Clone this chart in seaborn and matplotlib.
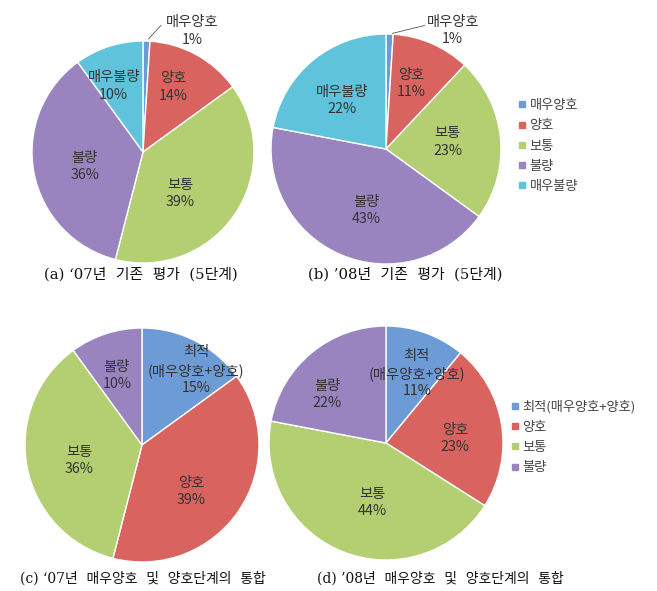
import numpy as np
import matplotlib
matplotlib.use("Agg")
import matplotlib.pyplot as plt
import seaborn as sns
from matplotlib.lines import Line2D

sns.set_theme(style="white")
plt.rcParams['font.family'] = ['Noto Sans CJK KR', 'DejaVu Sans']

# ---- data ----
cats5 = ['매우양호', '양호', '보통', '불량', '매우불량']
vals_a = [1, 14, 39, 36, 10]
vals_b = [1, 11, 23, 43, 22]
cats4 = ['최적(매우양호+양호)', '양호', '보통', '불량']
slice_labels4 = ['최적\n(매우양호+양호)', '양호', '보통', '불량']
vals_c = [15, 39, 36, 10]
vals_d = [11, 23, 44, 22]
captions = ["(a) ‘07년  기존  평가  (5단계)", "(b) ’08년  기존  평가  (5단계)",
            "(c) ‘07년  매우양호  및  양호단계의  통합", "(d) ’08년  매우양호  및  양호단계의  통합"]

pal5 = sns.color_palette(['#6D9BD6', '#D9645F', '#B3CF72', '#9A84C0', '#5FC3DC'])
pal4 = pal5[:4]

W, H = 657, 591
fig = plt.figure(figsize=(W / 100, H / 100), dpi=100)

def pie_axes(cx, cy, R):
    s = 2.5 * R
    return fig.add_axes([(cx - s / 2) / W, (H - cy - s / 2) / H, s / W, s / H])

LABEL_FS = 10.3

def draw(ax, vals, labels, colors, rfrac, dang, skip_first=False):
    wedges, _ = ax.pie(vals, colors=colors, startangle=90, counterclock=False,
                       wedgeprops=dict(edgecolor='white', linewidth=1.0))
    ax.set_xlim(-1.25, 1.25)
    ax.set_ylim(-1.25, 1.25)
    ax.set_aspect('equal')
    ax.axis('off')
    for i, (w, v, lab) in enumerate(zip(wedges, vals, labels)):
        if skip_first and i == 0:
            continue
        ang = np.deg2rad((w.theta1 + w.theta2) / 2 + dang[i])
        r = rfrac[i]
        ax.text(r * np.cos(ang), r * np.sin(ang), f"{lab}\n{v}%", ha='center', va='center',
                fontsize=LABEL_FS, color='#333333', linespacing=1.3)
    return wedges

def small_label(ax, w, v, lab, tx, ty, kx, ky):
    ang = np.deg2rad((w.theta1 + w.theta2) / 2)
    ax.annotate('', xy=(np.cos(ang), np.sin(ang)), xytext=(kx, ky),
                arrowprops=dict(arrowstyle='-', color='#555555', lw=0.6))
    ax.text(tx, ty, f"{lab}\n{v}%", ha='center', va='center', fontsize=LABEL_FS,
            color='#333333', linespacing=1.3)

# (a)
ax = pie_axes(143, 152, 111)
wa = draw(ax, vals_a, cats5, pal5, [0, 0.645, 0.50, 0.54, 0.65], [0, 4, -14, 3, 6], skip_first=True)
small_label(ax, wa[0], vals_a[0], cats5[0], 0.44, 1.09, 0.18, 1.16)

# (b)
ax = pie_axes(386, 149, 115)
wb = draw(ax, vals_b, cats5, pal5, [0, 0.61, 0.54, 0.56, 0.57], [0, 2, 1, 6, 3], skip_first=True)
small_label(ax, wb[0], vals_b[0], cats5[0], 0.58, 1.03, 0.36, 1.08)

# (c)
ax = pie_axes(142, 445, 117)
draw(ax, vals_c, slice_labels4, pal4, [0.79, 0.58, 0.55, 0.63], [-9, -9, 3, 2])

# (d)
ax = pie_axes(386, 443, 117)
draw(ax, vals_d, slice_labels4, pal4, [0.65, 0.59, 0.52, 0.65], [-4, -5, 9, 11])

# legends
def legend(labels, colors, x, y, spacing):
    handles = [Line2D([], [], marker='s', linestyle='', markersize=5, color=c) for c in colors]
    fig.legend(handles, labels, loc='upper left', bbox_to_anchor=(x / W, 1 - y / H),
               frameon=False, fontsize=9.5, handlelength=0.5, handletextpad=0.3,
               borderpad=0, borderaxespad=0, labelspacing=spacing, labelcolor='#444444')

legend(cats5, pal5, 519, 99, 0.55)
legend(cats4, pal4, 512, 400, 0.55)

# captions
cap_font = ['DejaVu Serif', 'Noto Sans CJK KR']
for (x, y, fs), t in zip([(141, 274, 10.7), (405, 274, 10.7), (143, 578, 10), (440, 578, 10)], captions):
    fig.text(x / W, 1 - y / H, t, ha='center', va='center', fontsize=fs, color='#111111',
             family=cap_font)

fig.savefig('out.png', dpi=100)
